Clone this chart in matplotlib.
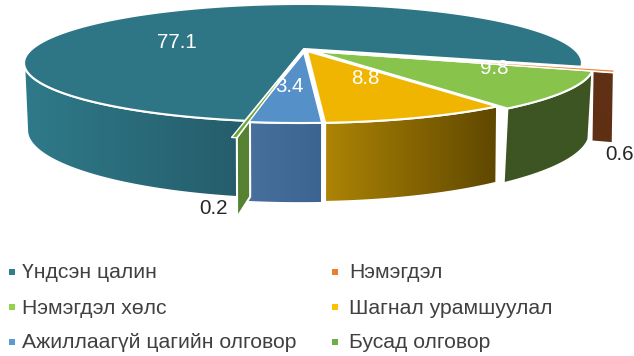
import numpy as np
import matplotlib
matplotlib.use("Agg")
from matplotlib import pyplot as plt
from matplotlib.patches import Polygon, Rectangle

plt.rcParams['font.family'] = ['Liberation Sans', 'DejaVu Sans']

categories = ['Үндсэн цалин', 'Нэмэгдэл', 'Нэмэгдэл хөлс', 'Шагнал урамшуулал',
              'Ажиллаагүй цагийн олговор', 'Бусад олговор']
values = [77.1, 0.6, 9.8, 8.8, 3.4, 0.2]

colors = ['#2e7686', '#ed7d31', '#88c34c', '#efb500', '#5690c8', '#6aa53c']
legend_colors = ['#2f7f91', '#ed7d31', '#94d14f', '#ffc000', '#5b9bd5', '#70ad47']
wall_left = ['#2f7a8a', '#5f3014', '#3c5522', '#ad8405', '#48709c', '#568232']
wall_right = ['#255c6a', '#5f3014', '#3c5522', '#5f4700', '#3c6491', '#568232']

# per slice tweaks: radius, top shift, bottom shift, apex shift
radius = [1.0, 1.11, 1.03, 1.0, 1.0, 1.16]
top_shift = [(0, -1), (0, 0), (3, 0), (0, 0), (-3, 0), (-1, 0)]
bot_shift = [(2, -3), (0, 0), (0, -2), (0, 0), (-3, 1), (-1, -2)]
apex_shift = [(1, -1), (3, 1), (9, 1), (4, 1), (1, 2), (0, 0)]

label_pos = [(177, 43), (619, 155), (494, 68), (365, 79), (289, 87), (213, 209)]
label_col = ['white', '#262626', 'white', 'white', 'white', '#262626']

start = 189.4
cx, cy = 303, 50
k = 0.237
a_top, b_top = 271, 55.7
a_bot, b_bot, cy_bot = 270, 65, 117


def top_xy(ang, r, shift=(0, 0)):
    t = np.radians(ang)
    x, y = r * np.sin(t), r * np.cos(t)
    w = 1 + k * y
    return np.column_stack([cx + shift[0] + a_top * x / w, cy + shift[1] - b_top * y / w])


def bot_xy(ang, r, shift=(0, 0)):
    t = np.radians(ang)
    x, y = r * np.sin(t), r * np.cos(t)
    w = 1 + k * y
    return np.column_stack([cx + shift[0] + a_bot * x / w, cy_bot + shift[1] - b_bot * y / w])


def gradient_fill(ax, pts, c1, c2, z):
    patch = Polygon(pts, closed=True, fc='none', ec='white', lw=1.5, zorder=z + 0.1, joinstyle='round')
    ax.add_patch(patch)
    c1 = np.array(matplotlib.colors.to_rgb(c1))
    c2 = np.array(matplotlib.colors.to_rgb(c2))
    grad = np.linspace(c1, c2, 128)[None, :, :]
    im = ax.imshow(grad, extent=[pts[:, 0].min(), pts[:, 0].max(), pts[:, 1].max(), pts[:, 1].min()],
                   aspect='auto', zorder=z, interpolation='bilinear')
    im.set_clip_path(patch)


fig = plt.figure(figsize=(6.34, 3.56), dpi=100)
ax = fig.add_axes([0, 0, 1, 1])

total = sum(values)
edges = start + np.cumsum([0] + values) / total * 360

# outer walls
for i in [0, 2, 3, 4]:
    a0, a1 = edges[i], edges[i + 1]
    if i == 0:
        a1 = 256
    ang = np.linspace(a0, a1, 80)
    up = top_xy(ang, radius[i], top_shift[i])
    lo = bot_xy(ang, radius[i], bot_shift[i])
    pts = np.vstack([up, lo[::-1]])
    gradient_fill(ax, pts, wall_left[i], wall_right[i], 2 if i == 0 else 3 + i * 0.1)

# cut faces of the two pulled out thin slices
for i, a, r0 in [(1, edges[2], 1.04), (5, edges[5], 0.98)]:
    pts = np.vstack([top_xy(np.array([a, a]), np.array([r0, radius[i]]), top_shift[i]),
                     bot_xy(np.array([a, a]), np.array([radius[i], r0]), bot_shift[i])])
    gradient_fill(ax, pts, wall_left[i], wall_right[i], 4)

# top faces
for i in range(6):
    ang = np.linspace(edges[i], edges[i + 1], 200)
    rim = top_xy(ang, radius[i], top_shift[i])
    apex = [[cx + apex_shift[i][0], cy + apex_shift[i][1]]]
    lw = 1.0 if values[i] < 1 else 1.5
    ax.add_patch(Polygon(np.vstack([apex, rim]), closed=True, fc=colors[i], ec='white',
                         lw=lw, zorder=6 + (i == 1)))

for v, p, c in zip(values, label_pos, label_col):
    ax.text(p[0], p[1], str(v), color=c, fontsize=14.8, ha='center', va='center', zorder=10)

# legend
legend_x = [(12, 22), (335, 349)]
legend_y = [272, 307, 342]
for i, name in enumerate(categories):
    mx, tx = legend_x[i % 2]
    y = legend_y[i // 2]
    ax.add_patch(Rectangle((mx - 3, y - 3), 6, 6, fc=legend_colors[i], ec='none'))
    ax.text(tx, y + 1, name, color='#404040', fontsize=15.2, ha='left', va='center')

ax.set_xlim(0, 634)
ax.set_ylim(356, 0)
ax.axis('off')
fig.savefig('out.png', dpi=100)
